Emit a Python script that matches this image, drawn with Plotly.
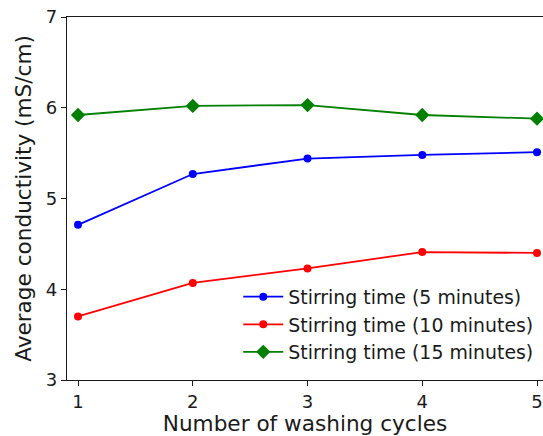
import plotly.graph_objects as go

cycles = [1, 2, 3, 4, 5]
stir_5 = [4.71, 5.27, 5.44, 5.48, 5.51]
stir_10 = [3.70, 4.07, 4.23, 4.41, 4.40]
stir_15 = [5.92, 6.02, 6.03, 5.92, 5.88]
names = ["Stirring time (5 minutes)", "Stirring time (10 minutes)", "Stirring time (15 minutes)"]

fig = go.Figure()
fig.add_trace(go.Scatter(x=cycles, y=stir_5, mode="lines+markers", name=names[0], legendgroup="a",
                         line=dict(color="blue", width=1.8), marker=dict(symbol="circle", size=8, color="blue")))
fig.add_trace(go.Scatter(x=cycles, y=stir_10, mode="lines+markers", name=names[1], legendgroup="b",
                         line=dict(color="red", width=1.8), marker=dict(symbol="circle", size=8, color="red")))
fig.add_trace(go.Scatter(x=cycles, y=stir_15, mode="lines+markers", name=names[2], legendgroup="c",
                         line=dict(color="green", width=1.8), marker=dict(symbol="diamond", size=11, color="green")))

font = "DejaVu Sans"
fig.update_layout(
    width=543, height=436,
    margin=dict(l=67, r=0, t=17, b=56),
    paper_bgcolor="white", plot_bgcolor="white",
    font=dict(family=font, color="#1a1a1a"),
    showlegend=True,
    legend=dict(x=0.99, y=0.025, xanchor="right", yanchor="bottom",
                font=dict(size=18.9, family=font, color="#1a1a1a"),
                bgcolor="rgba(0,0,0,0)", tracegroupgap=0, itemwidth=40),
    xaxis=dict(range=[0.904, 5.052], tickvals=cycles, ticks="outside", ticklen=5, tickwidth=1,
               tickcolor="#1a1a1a", showline=True, linecolor="#1a1a1a", linewidth=1.2, mirror=True,
               showgrid=False, zeroline=False, tickfont=dict(size=18),
               title=dict(text="Number of washing cycles", font=dict(size=21.6), standoff=6)),
    yaxis=dict(range=[3, 7], tickvals=[3, 4, 5, 6, 7], ticks="outside", ticklen=5, tickwidth=1,
               tickcolor="#1a1a1a", showline=True, linecolor="#1a1a1a", linewidth=1.2,
               showgrid=False, zeroline=False, tickfont=dict(size=18),
               title=dict(text="Average conductivity (mS/cm)", font=dict(size=21.6), standoff=8)),
)
fig.write_html("out.html")
